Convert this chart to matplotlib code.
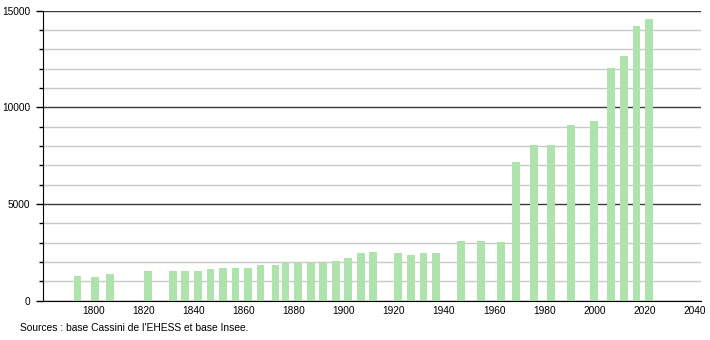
import numpy as np
import matplotlib
matplotlib.use("Agg")
import matplotlib.pyplot as plt

plt.rcParams['font.family'] = ['Liberation Sans', 'DejaVu Sans']

# census years and population
years = [1793, 1800, 1806, 1821, 1831, 1836, 1841, 1846, 1851, 1856, 1861,
         1866, 1872, 1876, 1881, 1886, 1891, 1896, 1901, 1906, 1911, 1921,
         1926, 1931, 1936, 1946, 1954, 1962, 1968, 1975, 1982, 1990, 1999,
         2006, 2011, 2016, 2021]
population = [1265, 1200, 1350, 1510, 1510, 1510, 1510, 1615, 1680, 1680, 1680,
              1855, 1855, 1945, 1945, 1945, 1945, 2030, 2220, 2445, 2535, 2445,
              2340, 2445, 2445, 3070, 3070, 3020, 7170, 8050, 8050, 9085, 9290,
              12020, 12655, 14225, 14570]

xticks = list(range(1800, 2041, 20))
yticks_major = [0, 5000, 10000, 15000]
yticks_minor = list(range(0, 15001, 1000))

fig = plt.figure(figsize=(7.1, 3.4), dpi=100)
ax = fig.add_axes([0.0606, 0.116, 0.9265, 0.8525])

# grid: light every 1000, dark every 5000
for v in yticks_minor:
    if v % 5000 == 0:
        ax.axhline(v, color='#3a3a3a', lw=1.0, zorder=1)
    else:
        ax.axhline(v, color='#c8c8c8', lw=1.0, zorder=1)

# bars sit slightly right of the census year in the original
ax.bar(np.array(years) + 0.8, population, width=3.1, color='#aee3ae', zorder=2)

ax.set_xlim(1780, 2042.5)
ax.set_ylim(0, 15000)
ax.set_xticks(xticks)
ax.set_xticklabels([str(x) for x in xticks])
ax.set_yticks(yticks_major)
ax.set_yticks(yticks_minor, minor=True)
ax.tick_params(axis='x', length=0, labelsize=7.3, pad=4)
ax.tick_params(axis='y', which='major', length=5, width=1, labelsize=7.3, pad=4)
ax.tick_params(axis='y', which='minor', length=3, width=1)

for s in ['top', 'right']:
    ax.spines[s].set_visible(False)
ax.spines['left'].set_color('black')
ax.spines['bottom'].set_color('black')
ax.spines['left'].set_zorder(3)
ax.spines['bottom'].set_zorder(3)

fig.text(20 / 710, 1 - 328 / 340, "Sources : base Cassini de l'EHESS et base Insee.",
         fontsize=7.4, va='center', ha='left')

fig.savefig('out.png', dpi=100)
